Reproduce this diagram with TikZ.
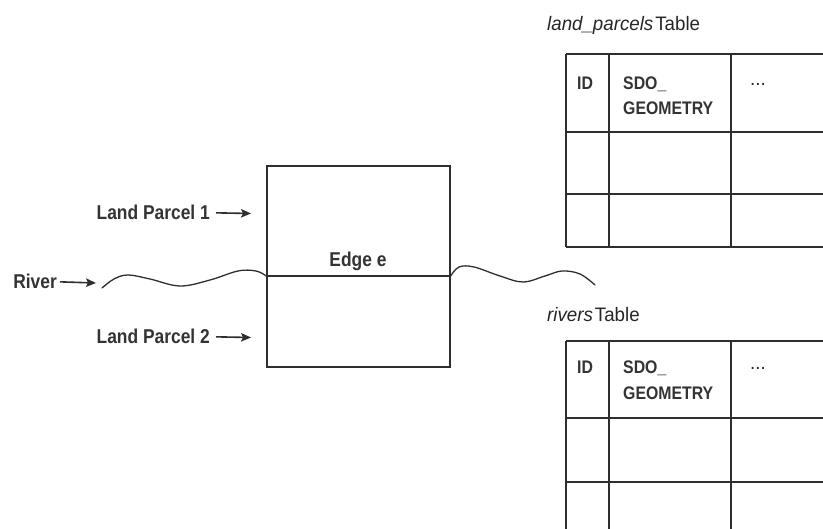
\documentclass[tikz,border=0pt]{standalone}
\usepackage{fontspec}
\setmainfont{Liberation Sans}[FakeStretch=0.87]
\newfontfamily\cellfont{Liberation Sans}[FakeStretch=0.87]
\newfontfamily\titlefont{Liberation Sans}[FakeStretch=0.96]
\usetikzlibrary{arrows.meta}

\begin{document}
\begin{tikzpicture}[x=1pt,y=-1pt,
  ink/.style={draw=black!82, line width=1.4pt},
  lbl/.style={font=\bfseries\fontsize{20}{24}\selectfont, text=black!80, inner sep=0pt},
  cell/.style={font=\cellfont\bfseries\fontsize{18.2}{21}\selectfont, text=black!80, inner sep=0pt},
  ttl/.style={font=\titlefont\fontsize{19.5}{23}\selectfont, text=black!85, inner sep=0pt},
  pointer/.style={draw=black!82, line width=1.6pt, -{Stealth[length=10pt,width=8.5pt,inset=2pt]}},
  riverline/.style={draw=black!82, line width=1.3pt, line cap=round}]
\useasboundingbox (0,0) rectangle (823,529);
\clip (0,0) rectangle (823,529);

% the parcel square and the shared edge
\node[ink, minimum width=183pt, minimum height=201pt, inner sep=0pt] (parcel) at (358.5,266.5) {};
\coordinate (edgeY) at (0,276);
\coordinate (eW) at (parcel.west |- edgeY);
\coordinate (eE) at (parcel.east |- edgeY);
\draw[ink] (eW) -- (eE);
\node[lbl, anchor=base] (edgelbl) at (358,267) {Edge e};

% labels with arrows
\node[lbl, anchor=base east] (lp1) at (210,220) {Land Parcel 1};
\coordinate (lp1tip) at (251,213.5);
\draw[pointer] ([xshift=6pt]lp1.east) -- (lp1tip);

\node[lbl, anchor=base east] (lp2) at (210,344) {Land Parcel 2};
\coordinate (lp2tip) at (251,337.5);
\draw[pointer] ([xshift=6pt]lp2.east) -- (lp2tip);

\node[lbl, anchor=base east] (riv) at (57,289) {River};
\coordinate (rivtip) at (96,283);
\draw[pointer] ([xshift=3pt]riv.east) -- (rivtip);

% the river, wavy on both sides of the square
\coordinate (rivL) at (102,288);
\coordinate (rivR) at (595,285);
\draw[riverline] plot[smooth, tension=0.6] coordinates
  {(rivL) (114,279) (128,275) (150,279) (180,286) (210,280) (238,271) (256,271) (eW)};
\draw[riverline] plot[smooth, tension=0.6] coordinates
  {(eE) (459,267) (474,267) (500,276) (523,282) (545,276) (562,271) (580,274) (rivR)};

% land_parcels table
\node[ttl, anchor=base west] (t1title) at (547,31) {\textit{land\_parcels}\hspace{2pt}Table};
\foreach \yy in {54,132,194,247} \draw[ink] (566,\yy) -- (830,\yy);
\foreach \xx in {566,609,731} \draw[ink] (\xx,54) -- (\xx,247);
\node[cell, anchor=base west] (t1id) at (577,90) {ID};
\node[cell, anchor=base west] (t1sdo) at (623,90) {SDO\_};
\node[cell, anchor=base west] (t1geo) at (623,115) {GEOMETRY};
\node[ttl, anchor=base west] (t1dots) at (750,86) {...};

% rivers table
\node[ttl, anchor=base west] (t2title) at (547,322) {\textit{rivers}\hspace{2pt}Table};
\foreach \yy in {341,418,482} \draw[ink] (566,\yy) -- (830,\yy);
\foreach \xx in {566,609,731} \draw[ink] (\xx,341) -- (\xx,540);
\node[cell, anchor=base west] (t2id) at (577,374) {ID};
\node[cell, anchor=base west] (t2sdo) at (623,374) {SDO\_};
\node[cell, anchor=base west] (t2geo) at (623,400) {GEOMETRY};
\node[ttl, anchor=base west] (t2dots) at (750,370) {...};
\end{tikzpicture}
\end{document}
